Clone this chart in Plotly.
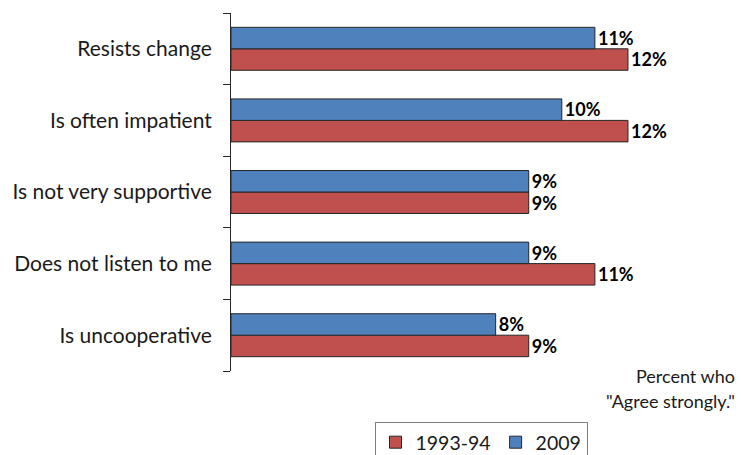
import plotly.graph_objects as go

categories = ["Resists change", "Is often impatient", "Is not very supportive",
              "Does not listen to me", "Is uncooperative"]
vals_1993 = [12, 12, 9, 11, 9]
vals_2009 = [11, 10, 9, 9, 8]
series_names = ["1993-94", "2009"]
colors = ["#C0504D", "#4F81BD"]

FONT = "Lato"

fig = go.Figure()
for name, vals, col in zip(series_names, [vals_1993, vals_2009], colors):
    fig.add_trace(go.Bar(
        y=categories, x=vals, name=name, orientation="h",
        marker=dict(color=col, line=dict(color="#262626", width=1)),
        texttemplate="%{x}%", textposition="outside",
        textfont=dict(family=FONT, size=18.5, color="black", weight="bold"),
        cliponaxis=False,
    ))

fig.update_layout(
    width=741, height=455,
    margin=dict(l=231, r=30, t=13, b=84, autoexpand=False),
    paper_bgcolor="white", plot_bgcolor="white",
    barmode="group", bargap=0.4, bargroupgap=0,
    font=dict(family=FONT, size=21, color="#1a1a1a"),
    xaxis=dict(visible=False, range=[0, 14.51], automargin=False),
    yaxis=dict(categoryorder="array", categoryarray=categories[::-1],
               showline=True, linecolor="#262626", linewidth=1,
               ticks="outside", ticklen=7, tickcolor="#262626",
               tickson="boundaries", showgrid=False, automargin=False,
               ticklabelstandoff=14,
               tickfont=dict(family=FONT, size=21, color="#1a1a1a")),
    legend=dict(orientation="h", x=481 / 741, xanchor="center",
                xref="container", yref="container", y=33 / 455, yanchor="top",
                bordercolor="#7f7f7f", borderwidth=1, bgcolor="white",
                font=dict(family=FONT, size=19.5, color="#1a1a1a"),
                traceorder="normal", itemwidth=30, tracegroupgap=0),
    annotations=[
        dict(text="Percent who", xref="paper", yref="paper", x=(737 - 231) / 480,
             y=(371 - 363) / 358, xanchor="right", yanchor="top", showarrow=False,
             font=dict(family=FONT, size=18, color="#1a1a1a")),
        dict(text="\"Agree strongly.\"", xref="paper", yref="paper", x=(737 - 231) / 480,
             y=(371 - 388) / 358, xanchor="right", yanchor="top", showarrow=False,
             font=dict(family=FONT, size=18, color="#1a1a1a")),
    ],
)

fig.write_html("out.html", config={"displayModeBar": False},
               post_script="document.body.style.margin='0';")
